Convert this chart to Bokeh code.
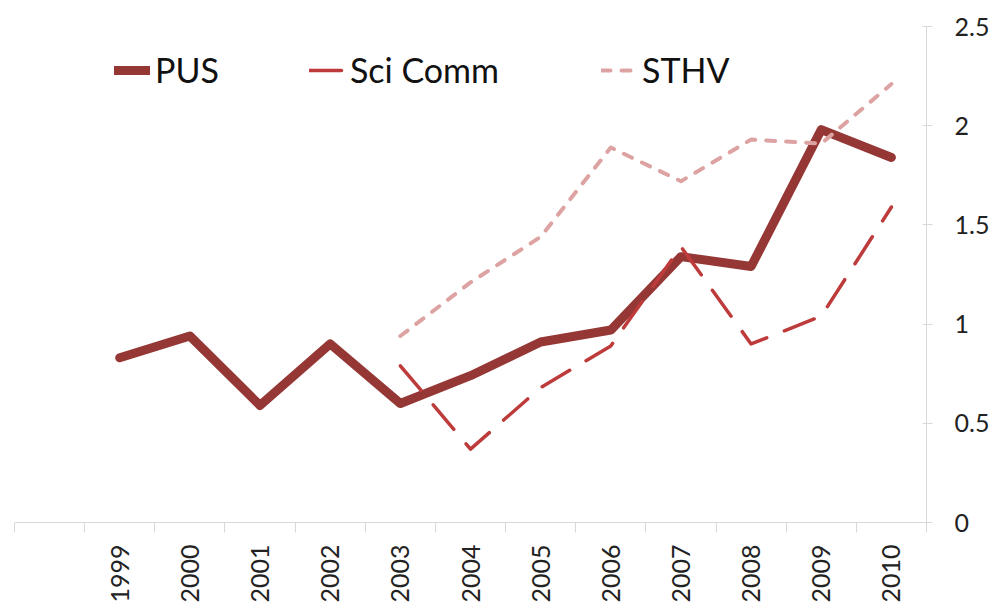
import numpy as np
from bokeh.plotting import figure
from bokeh.models import FixedTicker, Legend, LegendItem, Range1d, NumeralTickFormatter
from bokeh.embed import file_html
from bokeh.resources import INLINE

# ---- data ----
years = ["1999", "2000", "2001", "2002", "2003", "2004", "2005", "2006", "2007", "2008", "2009", "2010"]
pus = [0.83, 0.94, 0.59, 0.90, 0.60, 0.74, 0.91, 0.97, 1.34, 1.29, 1.98, 1.84]
sci_comm = [None, None, None, None, 0.79, 0.37, 0.68, 0.89, 1.39, 0.90, 1.04, 1.59]
sthv = [None, None, None, None, 0.94, 1.21, 1.44, 1.89, 1.72, 1.93, 1.91, 2.21]
y_ticks = [0, 0.5, 1, 1.5, 2, 2.5]

# one empty category slot precedes 1999 on the axis
n_slots = len(years) + 1
x = np.arange(len(years)) + 1.5

def arr(v):
    return np.array([np.nan if a is None else a for a in v], dtype=float)

p = figure(width=993, height=605, output_backend="svg", toolbar_location=None,
           x_range=Range1d(0, n_slots), y_range=Range1d(0, 2.5),
           y_axis_location="right",
           min_border_left=14, min_border_right=67, min_border_top=26, min_border_bottom=80)
p.outline_line_color = None
p.xgrid.visible = False
p.ygrid.visible = False
p.background_fill_color = "white"
p.border_fill_color = "white"

FONT = "Lato"
AX = "#D9D9D9"

# x axis: labels at category centres, tick marks at category boundaries
xa = p.xaxis[0]
xa.ticker = FixedTicker(ticks=list(x), minor_ticks=list(range(0, n_slots + 1)))
xa.major_label_overrides = {float(v): y for v, y in zip(x, years)}
xa.major_label_orientation = np.pi / 2
xa.major_tick_out = 0
xa.major_tick_in = 0
xa.minor_tick_out = 10
xa.minor_tick_in = 0
xa.minor_tick_line_color = AX
xa.axis_line_color = AX
xa.major_label_text_font = FONT
xa.major_label_text_font_size = "25px"
xa.major_label_text_color = "#222222"
xa.major_label_standoff = 12

ya = p.yaxis[0]
ya.ticker = FixedTicker(ticks=y_ticks)
ya.formatter = NumeralTickFormatter(format="0.[0]")
ya.axis_line_color = AX
ya.major_tick_line_color = AX
ya.major_tick_in = 4
ya.major_tick_out = 6
ya.minor_tick_line_color = None
ya.major_label_text_font = FONT
ya.major_label_text_font_size = "25px"
ya.major_label_text_color = "#222222"
ya.major_label_standoff = 22

r_pus = p.line(x, arr(pus), line_color="#953735", line_width=9,
               line_cap="round", line_join="round")
r_sci = p.line(x, arr(sci_comm), line_color="#BE3B3C", line_width=3.5,
               line_dash="32 19", line_cap="round", line_join="round")
r_sthv = p.line(x, arr(sthv), line_color="#DDA3A2", line_width=4,
                line_dash="9 11", line_cap="round", line_join="round")

def add_legend(label, renderer, xpos):
    lg = Legend(items=[LegendItem(label=label, renderers=[renderer])],
                location=(xpos, 432), orientation="horizontal",
                glyph_width=36, glyph_height=40, label_height=40,
                label_standoff=5, padding=0, margin=0, spacing=0,
                border_line_color=None, background_fill_alpha=0,
                label_text_font=FONT, label_text_font_size="34px",
                label_text_color="#111111")
    p.add_layout(lg, "center")

add_legend("PUS", r_pus, 100)
add_legend("Sci Comm", r_sci, 295)
add_legend("STHV", r_sthv, 587)

open("out.html", "w").write(file_html(p, INLINE))
